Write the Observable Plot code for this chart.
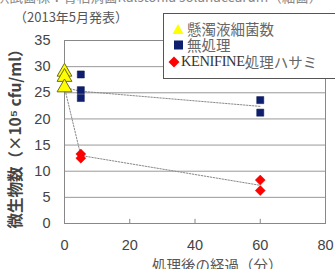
<!DOCTYPE html>
<html><head><meta charset="utf-8">
<script src="https://cdn.jsdelivr.net/npm/d3@7"></script>
<script src="https://cdn.jsdelivr.net/npm/@observablehq/plot@0.6"></script>
<style>
body{margin:0;background:#fff;}
#wrap{position:relative;width:335px;height:269px;overflow:hidden;font-family:"Liberation Sans","Noto Sans CJK JP",sans-serif;}
.t{position:absolute;white-space:nowrap;color:#555;font-family:"Noto Sans CJK JP",sans-serif;}
#legend{position:absolute;left:163px;top:13px;width:185px;height:66px;border:1.5px solid #555;background:#fff;box-sizing:border-box;}
.li{position:absolute;left:8px;height:17px;display:flex;align-items:center;font-size:14.5px;color:#666;font-family:"Noto Sans CJK JP",sans-serif;white-space:nowrap;}
.li svg{margin-right:3px;}
.ser{font-family:"Liberation Serif",serif;color:#333;letter-spacing:-0.4px;}
</style></head>
<body><div id="wrap"></div>
<script>
// data
const suspTime = [0, 0, 0];
const suspValue = [29, 28, 26];
const untreatedTime = [5, 5, 5, 60, 60];
const untreatedValue = [28.5, 25.5, 24, 23.6, 21.2];
const keniTime = [5, 5, 60, 60];
const keniValue = [13.3, 12.5, 8.3, 6.3];
const lineTime = [0, 5, 60];
const untreatedLine = [26, 25.3, 22.4];
const keniLine = [26, 13, 7.3];
const yTicks = [0, 5, 10, 15, 20, 25, 30, 35];
const xTicks = [0, 20, 40, 60, 80];

const susp = suspTime.map((t, i) => ({t, v: suspValue[i]}));
const untreated = untreatedTime.map((t, i) => ({t, v: untreatedValue[i]}));
const keni = keniTime.map((t, i) => ({t, v: keniValue[i]}));
const uLine = lineTime.map((t, i) => ({t, v: untreatedLine[i]}));
const kLine = lineTime.map((t, i) => ({t, v: keniLine[i]}));

const chart = Plot.plot({
  width: 335, height: 269,
  marginLeft: 64, marginRight: 10, marginTop: 40, marginBottom: 46,
  style: {fontFamily: "Liberation Sans, Arial, sans-serif", fontSize: "14px", color: "#444", background: "#fff"},
  x: {domain: [0, 80], ticks: xTicks},
  y: {domain: [0, 35], ticks: yTicks},
  marks: [
    Plot.gridY(yTicks.filter(d => d > 0 && d < 35), {stroke: "#999", strokeOpacity: 1}),
    Plot.frame({stroke: "#888"}),
    Plot.ruleX([20, 40, 60], {y1: 0, y2: 0.8, stroke: "#888"}),
    Plot.axisY({ticks: yTicks, tickSize: 0, tickPadding: 14, fontSize: 14.5, label: null}),
    Plot.axisX({ticks: xTicks, tickSize: 0, tickPadding: 16, fontSize: 14.5, label: null}),
    Plot.line(uLine, {x: "t", y: "v", stroke: "#888", strokeWidth: 1, strokeDasharray: "1.5,1.5"}),
    Plot.line(kLine, {x: "t", y: "v", stroke: "#888", strokeWidth: 1, strokeDasharray: "1.5,1.5"}),
    Plot.dot(untreated, {x: "t", y: "v", symbol: "square", r: 4, fill: "#0d1f6e", stroke: "#0a1650", strokeWidth: 0.5}),
    Plot.dot(keni, {x: "t", y: "v", symbol: "diamond2", r: 4.5, fill: "#ff0000", stroke: "#e00000", strokeWidth: 0.5}),
    Plot.dot(susp, {x: "t", y: "v", symbol: "triangle", r: 5.5, fill: "#ffff00", stroke: "#6b6b20", strokeWidth: 1})
  ]
});
const wrap = document.getElementById("wrap");
wrap.appendChild(chart);

function addText(txt, css, cls) {
  const d = document.createElement("div");
  d.className = cls || "t";
  d.textContent = txt;
  Object.assign(d.style, css);
  wrap.appendChild(d);
  return d;
}
addText("供試菌株：青枯病菌Ralstonia solanacearum（細菌）", {left: "-4px", top: "-14px", fontSize: "13.5px", color: "#888"});
addText("（2013年5月発表）", {left: "14px", top: "7px", fontSize: "13px", color: "#555"});
addText("処理後の経過（分）", {left: "152px", top: "254px", fontSize: "14.5px", color: "#555"});
addText("微生物数（×10⁵ cfu/ml）", {left: "14px", top: "135px", fontSize: "15.5px", color: "#444", fontWeight: "bold", transform: "translate(-50%,-50%) rotate(-90deg)"});

const legend = document.createElement("div");
legend.id = "legend";
legend.innerHTML = `
<div class="li" style="top:6px"><svg width="12" height="12"><path d="M6,1 L11.5,11 L0.5,11 Z" fill="#ffff00"/></svg>懸濁液細菌数</div>
<div class="li" style="top:22px"><svg width="12" height="12"><rect x="2" y="1.5" width="9" height="9" fill="#0d1f6e"/></svg>無処理</div>
<div class="li" style="top:39px;left:4px"><svg width="12" height="12" style="margin-right:1px"><path d="M6,0.5 L11.5,6 L6,11.5 L0.5,6 Z" fill="#ff0000"/></svg><span class="ser">KENIFINE</span>処理ハサミ</div>`;
wrap.appendChild(legend);
</script>
</body></html>
